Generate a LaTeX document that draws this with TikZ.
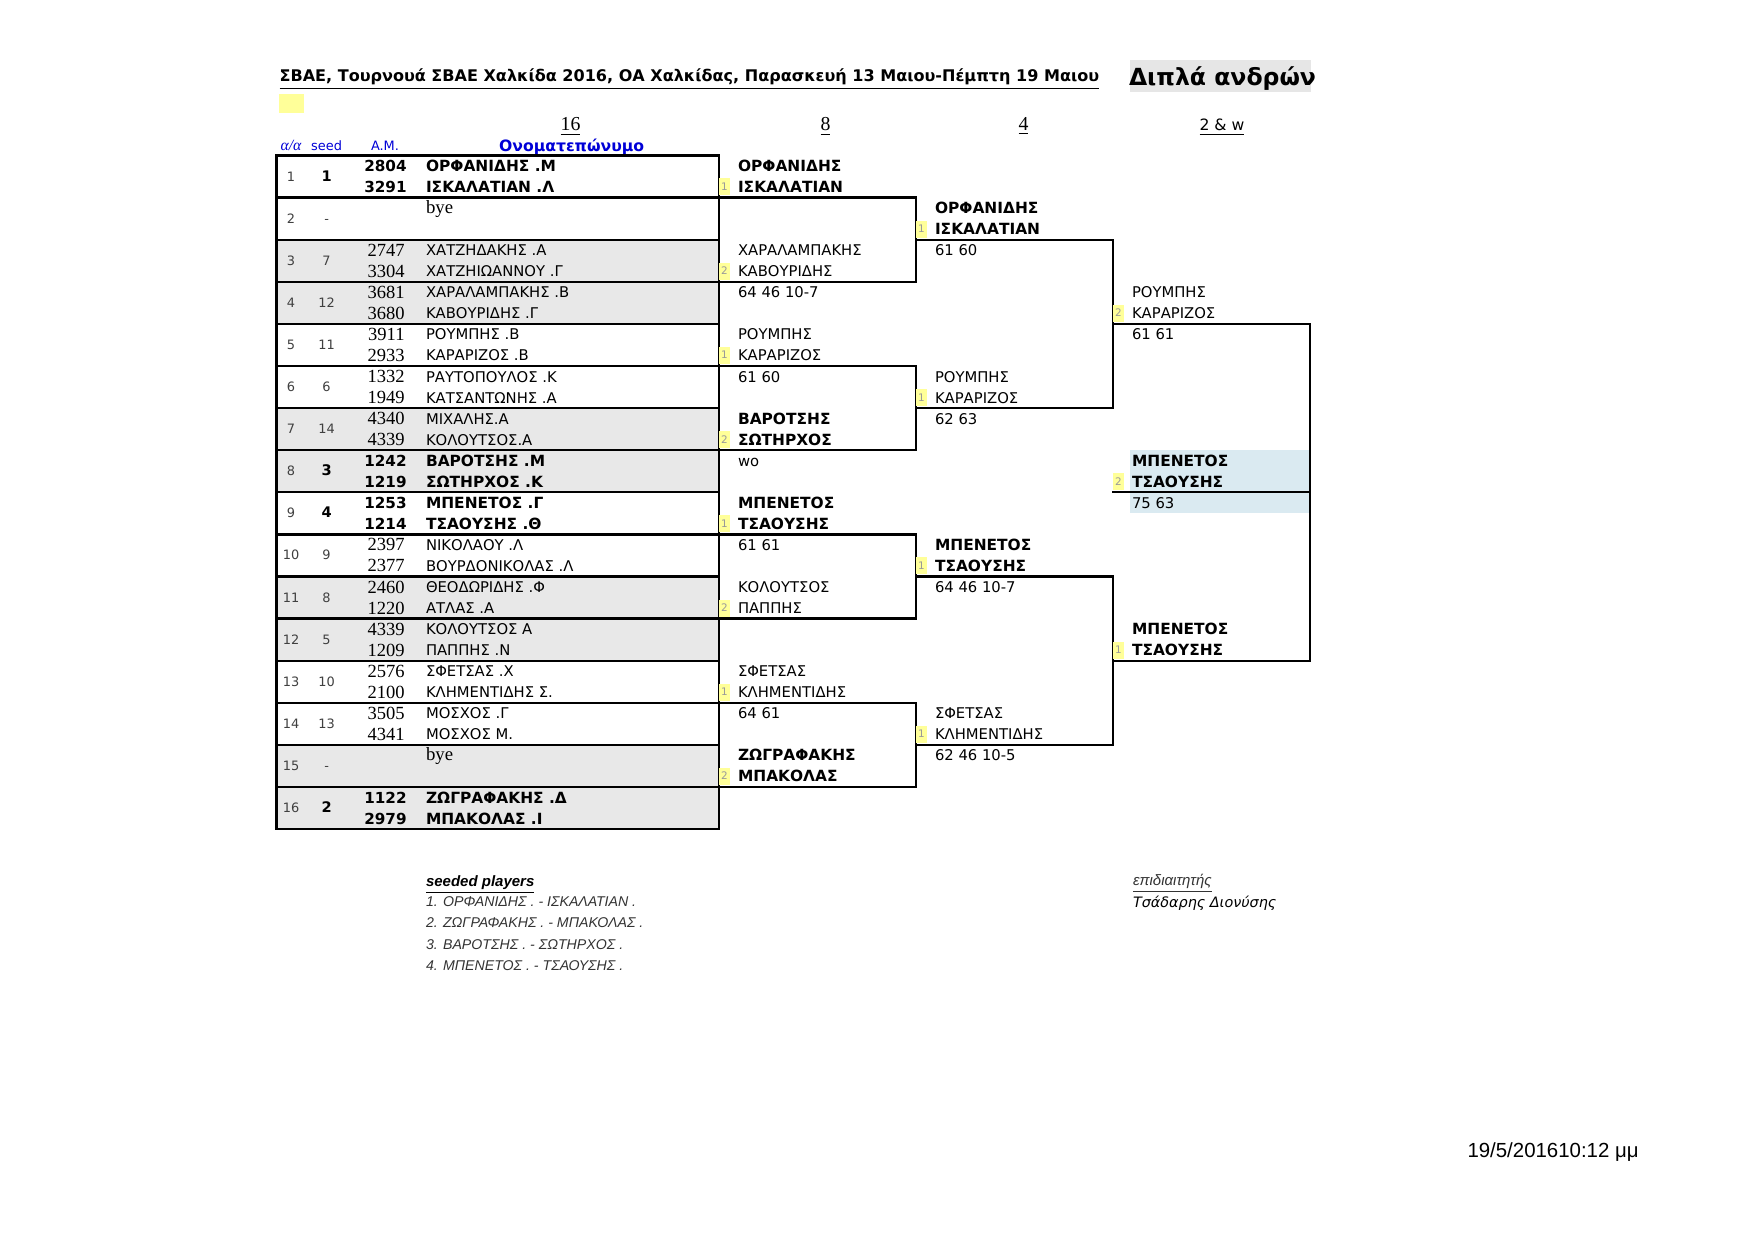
\documentclass[tikz,border=0pt]{standalone}
\usepackage{fontspec}
\setmainfont{Liberation Serif}
\newfontfamily\tah{DejaVu Sans}
\newfontfamily\ari{Liberation Sans}
\definecolor{rowgray}{RGB}{232,232,232}
\definecolor{seedyel}{RGB}{255,255,153}
\definecolor{finblue}{RGB}{218,234,241}
\definecolor{hdrblue}{RGB}{0,0,215}
\definecolor{boxgray}{RGB}{230,230,230}
\tikzset{
  txt/.style={inner sep=0pt, outer sep=0pt, anchor=base west},
  nm/.style={txt, font=\tah\fontsize{7.1}{8}\selectfont},
  nmb/.style={txt, font=\tah\bfseries\fontsize{7.4}{8}\selectfont},
  amr/.style={inner sep=0pt, anchor=base east, font=\fontsize{8.9}{9}\selectfont},
  amb/.style={inner sep=0pt, anchor=base east, font=\tah\bfseries\fontsize{7.3}{8}\selectfont},
  idx/.style={inner sep=0pt, anchor=base, text=black!75, font=\tah\fontsize{6.2}{7}\selectfont},
  idxb/.style={inner sep=0pt, anchor=base, font=\tah\bfseries\fontsize{7}{8}\selectfont},
  seednum/.style={inner sep=0pt, anchor=base, text=black!40, font=\tah\fontsize{5}{6}\selectfont},
  br/.style={line width=1.1pt, line cap=rect},
  rowbox/.style={line width=1.1pt},
  hdr/.style={inner sep=0pt, anchor=base, text=hdrblue},
}
% player rows
\newcommand\plrow[8]{%
  \pgfmathsetmacro\T{155.5+42.1*(#1-1)}
  \node[idx] (aa#1) at (291,\T+25.5) {#2};
  \node[#8] (sd#1) at (326.6,\T+25.5) {#3};
}
\newcommand\players[6]{% row, am1, name1, am2, name2, bold?
  \pgfmathsetmacro\T{155.5+42.1*(#1-1)}
  \ifnum#6=1
    \node[amb] (ama#1) at (407,\T+16) {#2};
    \node[nmb] (pna#1) at (426,\T+16) {#3};
    \node[amb] (amb#1) at (407,\T+37) {#4};
    \node[nmb] (pnb#1) at (426,\T+37) {#5};
  \else
    \node[amr] (ama#1) at (405,\T+16.5) {#2};
    \node[nm] (pna#1) at (426,\T+16) {#3};
    \node[amr] (amb#1) at (405,\T+37.5) {#4};
    \node[nm] (pnb#1) at (426,\T+37) {#5};
  \fi
}
% bracket entries: id, x, row, name1, name2, seed, style
\newcommand\entry[7]{%
  \pgfmathsetmacro\T{155.5+42.1*(#3-1)}
  \fill[seedyel] (#2-19,\T+23) rectangle (#2-8,\T+40);
  \node[seednum] (s#1) at (#2-13.5,\T+35) {#6};
  \node[#7] (a#1) at (#2,\T+16) {#4};
  \node[#7] (b#1) at (#2,\T+37) {#5};
}
\newcommand\score[4]{% id, x, row, text
  \pgfmathsetmacro\T{155.5+42.1*(#3)}
  \node[nm] (sc#1) at (#2,\T+16) {#4};
}
\begin{document}
\begin{tikzpicture}[x=0.48pt,y=-0.48pt]
\useasboundingbox[fill=white] (0,0) rectangle (1754,1240);

% ---- header ----
\node[txt, font=\tah\bfseries\fontsize{7.7}{9}\selectfont] (title) at (279.6,82)
  {\underline{ΣΒΑΕ, Τουρνουά ΣΒΑΕ Χαλκίδα 2016, ΟΑ Χαλκίδας, Παρασκευή 13 Μαιου-Πέμπτη 19 Μαιου}};
\fill[boxgray] (1130,60) rectangle (1311,92);
\node[txt, font=\tah\bfseries\fontsize{11.3}{13}\selectfont] (event) at (1129,85.5) {Διπλά ανδρών};
\fill[seedyel] (278.5,94) rectangle (304,113);

\node[inner sep=0pt, anchor=base, font=\fontsize{9.5}{10}\selectfont] (c16) at (570.5,131) {\underline{16}};
\node[inner sep=0pt, anchor=base, font=\fontsize{9.5}{10}\selectfont] (c8) at (825.5,131) {\underline{8}};
\node[inner sep=0pt, anchor=base, font=\fontsize{9.5}{10}\selectfont] (c4) at (1023.5,131) {\underline{4}};
\node[inner sep=0pt, anchor=base, font=\tah\fontsize{7.5}{9}\selectfont] (c2) at (1222,131) {\underline{2 \& w}};

\node[hdr, font=\fontsize{7.5}{8}\selectfont\itshape] (haa) at (291,150.5) {α/α};
\node[hdr, font=\tah\fontsize{6.2}{7}\selectfont] (hseed) at (326.6,150.5) {seed};
\node[hdr, font=\tah\fontsize{6.2}{7}\selectfont] (ham) at (385,150.5) {A.M.};
\node[hdr, font=\tah\bfseries\fontsize{7.5}{8}\selectfont] (hname) at (571.6,151.5) {Ονοματεπώνυμο};

% ---- table rows ----
\foreach \r in {3,4,7,8,11,12,15,16}
  \fill[rowgray] (276.5,{155.5+42.1*(\r-1)}) rectangle (719,{155.5+42.1*\r});
\fill[finblue] (1130,{155.5+42.1*7}) rectangle (1310,{155.5+42.1*8+21});
\foreach \r in {1,...,16}
  \draw[rowbox] (276.5,{155.5+42.1*(\r-1)}) rectangle (719,{155.5+42.1*\r});

% ---- bracket lines ----
\foreach \k in {1,...,8}
  \draw[br] (719,{155.5+42.1*(2*\k-1)}) -- (916,{155.5+42.1*(2*\k-1)});
\foreach \j in {1,...,4}
  \draw[br] (916,{155.5+42.1*(4*\j-3)}) -- (916,{155.5+42.1*(4*\j-1)});
\foreach \j in {1,...,4}
  \draw[br] (916,{155.5+42.1*(4*\j-2)}) -- (1113,{155.5+42.1*(4*\j-2)});
\foreach \i in {1,2}
  \draw[br] (1113,{155.5+42.1*(8*\i-6)}) -- (1113,{155.5+42.1*(8*\i-2)});
\foreach \i in {1,2}
  \draw[br] (1113,{155.5+42.1*(8*\i-4)}) -- (1310,{155.5+42.1*(8*\i-4)});
\draw[br] (1310,{155.5+42.1*4}) -- (1310,{155.5+42.1*12});
\draw[br] (1113,{155.5+42.1*8}) -- (1310,{155.5+42.1*8});

% ---- player table ----
\plrow{1}{1}{1}{}{}{}{}{idxb}
\plrow{2}{2}{-}{}{}{}{}{idx}
\plrow{3}{3}{7}{}{}{}{}{idx}
\plrow{4}{4}{12}{}{}{}{}{idx}
\plrow{5}{5}{11}{}{}{}{}{idx}
\plrow{6}{6}{6}{}{}{}{}{idx}
\plrow{7}{7}{14}{}{}{}{}{idx}
\plrow{8}{8}{3}{}{}{}{}{idxb}
\plrow{9}{9}{4}{}{}{}{}{idxb}
\plrow{10}{10}{9}{}{}{}{}{idx}
\plrow{11}{11}{8}{}{}{}{}{idx}
\plrow{12}{12}{5}{}{}{}{}{idx}
\plrow{13}{13}{10}{}{}{}{}{idx}
\plrow{14}{14}{13}{}{}{}{}{idx}
\plrow{15}{15}{-}{}{}{}{}{idx}
\plrow{16}{16}{2}{}{}{}{}{idxb}

\players{1}{2804}{ΟΡΦΑΝΙΔΗΣ .Μ}{3291}{ΙΣΚΑΛΑΤΙΑΝ .Λ}{1}
\node[txt, font=\fontsize{9}{10}\selectfont] (bye2) at (426,{155.5+42.1*1+15.5}) {bye};
\players{3}{2747}{ΧΑΤΖΗΔΑΚΗΣ .Α}{3304}{ΧΑΤΖΗΙΩΑΝΝΟΥ .Γ}{0}
\players{4}{3681}{ΧΑΡΑΛΑΜΠΑΚΗΣ .Β}{3680}{ΚΑΒΟΥΡΙΔΗΣ .Γ}{0}
\players{5}{3911}{ΡΟΥΜΠΗΣ .Β}{2933}{ΚΑΡΑΡΙΖΟΣ .Β}{0}
\players{6}{1332}{ΡΑΥΤΟΠΟΥΛΟΣ .Κ}{1949}{ΚΑΤΣΑΝΤΩΝΗΣ .Α}{0}
\players{7}{4340}{ΜΙΧΑΛΗΣ.Α}{4339}{ΚΟΛΟΥΤΣΟΣ.Α}{0}
\players{8}{1242}{ΒΑΡΟΤΣΗΣ .Μ}{1219}{ΣΩΤΗΡΧΟΣ .Κ}{1}
\players{9}{1253}{ΜΠΕΝΕΤΟΣ .Γ}{1214}{ΤΣΑΟΥΣΗΣ .Θ}{1}
\players{10}{2397}{ΝΙΚΟΛΑΟΥ .Λ}{2377}{ΒΟΥΡΔΟΝΙΚΟΛΑΣ .Λ}{0}
\players{11}{2460}{ΘΕΟΔΩΡΙΔΗΣ .Φ}{1220}{ΑΤΛΑΣ .Α}{0}
\players{12}{4339}{ΚΟΛΟΥΤΣΟΣ Α}{1209}{ΠΑΠΠΗΣ .Ν}{0}
\players{13}{2576}{ΣΦΕΤΣΑΣ .Χ}{2100}{ΚΛΗΜΕΝΤΙΔΗΣ Σ.}{0}
\players{14}{3505}{ΜΟΣΧΟΣ .Γ}{4341}{ΜΟΣΧΟΣ Μ.}{0}
\node[txt, font=\fontsize{9}{10}\selectfont] (bye15) at (426,{155.5+42.1*14+15.5}) {bye};
\players{16}{1122}{ΖΩΓΡΑΦΑΚΗΣ .Δ}{2979}{ΜΠΑΚΟΛΑΣ .Ι}{1}

% ---- round of 8 ----
\entry{r2a}{738}{1}{ΟΡΦΑΝΙΔΗΣ}{ΙΣΚΑΛΑΤΙΑΝ}{1}{nmb}
\entry{r2b}{738}{3}{ΧΑΡΑΛΑΜΠΑΚΗΣ}{ΚΑΒΟΥΡΙΔΗΣ}{2}{nm}
\score{r2b}{738}{3}{64 46 10-7}
\entry{r2c}{738}{5}{ΡΟΥΜΠΗΣ}{ΚΑΡΑΡΙΖΟΣ}{1}{nm}
\score{r2c}{738}{5}{61 60}
\entry{r2d}{738}{7}{ΒΑΡΟΤΣΗΣ}{ΣΩΤΗΡΧΟΣ}{2}{nmb}
\score{r2d}{738}{7}{wo}
\entry{r2e}{738}{9}{ΜΠΕΝΕΤΟΣ}{ΤΣΑΟΥΣΗΣ}{1}{nmb}
\score{r2e}{738}{9}{61 61}
\entry{r2f}{738}{11}{ΚΟΛΟΥΤΣΟΣ}{ΠΑΠΠΗΣ}{2}{nm}
\entry{r2g}{738}{13}{ΣΦΕΤΣΑΣ}{ΚΛΗΜΕΝΤΙΔΗΣ}{1}{nm}
\score{r2g}{738}{13}{64 61}
\entry{r2h}{738}{15}{ΖΩΓΡΑΦΑΚΗΣ}{ΜΠΑΚΟΛΑΣ}{2}{nmb}

% ---- round of 4 ----
\entry{r3a}{935}{2}{ΟΡΦΑΝΙΔΗΣ}{ΙΣΚΑΛΑΤΙΑΝ}{1}{nmb}
\score{r3a}{935}{2}{61 60}
\entry{r3b}{935}{6}{ΡΟΥΜΠΗΣ}{ΚΑΡΑΡΙΖΟΣ}{1}{nm}
\score{r3b}{935}{6}{62 63}
\entry{r3c}{935}{10}{ΜΠΕΝΕΤΟΣ}{ΤΣΑΟΥΣΗΣ}{1}{nmb}
\score{r3c}{935}{10}{64 46 10-7}
\entry{r3d}{935}{14}{ΣΦΕΤΣΑΣ}{ΚΛΗΜΕΝΤΙΔΗΣ}{1}{nm}
\score{r3d}{935}{14}{62 46 10-5}

% ---- semifinal / final ----
\entry{r4a}{1132}{4}{ΡΟΥΜΠΗΣ}{ΚΑΡΑΡΙΖΟΣ}{2}{nm}
\score{r4a}{1132}{4}{61 61}
\entry{r4b}{1132}{12}{ΜΠΕΝΕΤΟΣ}{ΤΣΑΟΥΣΗΣ}{1}{nmb}
\entry{fin}{1132}{8}{ΜΠΕΝΕΤΟΣ}{ΤΣΑΟΥΣΗΣ}{2}{nmb}
\score{fin}{1132}{8}{75 63}

% ---- footer ----
\node[txt, font=\ari\bfseries\itshape\fontsize{7.2}{8}\selectfont] (seeded) at (426,886) {\underline{seeded players}};
\begin{scope}[every node/.style={txt, text=black!80, font=\ari\itshape\fontsize{6.8}{8}\selectfont}]
\node (sp1) at (426,906.5) {1. ΟΡΦΑΝΙΔΗΣ . - ΙΣΚΑΛΑΤΙΑΝ .};
\node (sp2) at (426,927.7) {2. ΖΩΓΡΑΦΑΚΗΣ . - ΜΠΑΚΟΛΑΣ .};
\node (sp3) at (426,949) {3. ΒΑΡΟΤΣΗΣ . - ΣΩΤΗΡΧΟΣ .};
\node (sp4) at (426,970.2) {4. ΜΠΕΝΕΤΟΣ . - ΤΣΑΟΥΣΗΣ .};
\end{scope}
\node[txt, text=black!80, font=\ari\itshape\fontsize{7.2}{8}\selectfont] (ref) at (1133,885.5) {\underline{επιδιαιτητής}};
\node[txt, font=\tah\itshape\fontsize{6.9}{8}\selectfont] (refname) at (1133,907) {Τσάδαρης Διονύσης};
\node[txt, font=\ari\fontsize{9.8}{11}\selectfont] (date) at (1467.5,1157.3) {19/5/201610:12 μμ};
\end{tikzpicture}
\end{document}
